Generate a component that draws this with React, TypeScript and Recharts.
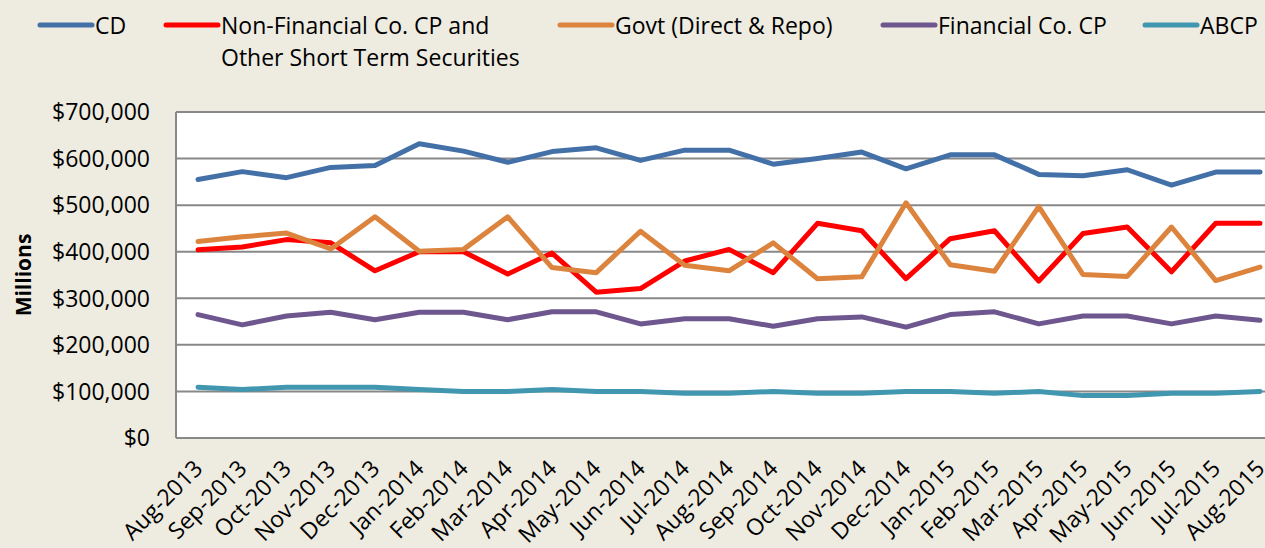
import React from 'react';
import { LineChart, Line, XAxis, YAxis, CartesianGrid } from 'recharts';

const months = ['Aug-2013','Sep-2013','Oct-2013','Nov-2013','Dec-2013','Jan-2014','Feb-2014','Mar-2014','Apr-2014','May-2014','Jun-2014','Jul-2014','Aug-2014','Sep-2014','Oct-2014','Nov-2014','Dec-2014','Jan-2015','Feb-2015','Mar-2015','Apr-2015','May-2015','Jun-2015','Jul-2015','Aug-2015'];
const cd = [555000,572000,559000,581000,585000,632000,616000,592000,615000,623000,596000,618000,618000,588000,600000,614000,578000,608000,608000,566000,563000,576000,543000,571000,571000];
const nonFin = [404000,410000,426000,419000,359000,400000,400000,352000,397000,313000,321000,380000,405000,355000,461000,445000,342000,428000,445000,337000,439000,453000,357000,461000,461000];
const govt = [422000,432000,440000,406000,475000,401000,405000,475000,366000,355000,444000,371000,359000,419000,342000,346000,505000,372000,358000,497000,351000,347000,453000,338000,367000];
const financial = [265000,243000,262000,270000,254000,270000,270000,254000,271000,271000,245000,256000,256000,240000,256000,260000,238000,265000,271000,245000,262000,262000,245000,262000,253000];
const abcp = [109000,104000,109000,109000,109000,104000,100000,100000,104000,100000,100000,96000,96000,100000,96000,96000,100000,100000,96000,100000,91000,91000,96000,96000,100000];
const yTicks = [0,100000,200000,300000,400000,500000,600000,700000];

const seriesNames = ['CD', 'Non-Financial Co. CP and\nOther Short Term Securities', 'Govt (Direct & Repo)', 'Financial Co. CP', 'ABCP'];
const seriesKeys = ['cd', 'nonFin', 'govt', 'financial', 'abcp'];
const seriesColors = ['#4470A8', '#FF0000', '#DC843D', '#6E578E', '#4097AF'];
const legendLefts = [37, 163, 557, 880, 1142];

const data = months.map((m, i) => ({
  month: m,
  cd: cd[i],
  nonFin: nonFin[i],
  govt: govt[i],
  financial: financial[i],
  abcp: abcp[i],
}));

const FONT = "'Open Sans', 'Noto Sans', sans-serif";

const fmt = (v: number) => '$' + v.toLocaleString('en-US');

const YTick = (props: any) => {
  const { x, y, payload } = props;
  return (
    <text x={x - 26} y={y} dy="0.36em" textAnchor="end" fontSize={23} fill="#000" fontFamily={FONT}>
      {fmt(payload.value)}
    </text>
  );
};

const XTick = (props: any) => {
  const { x, y, payload } = props;
  const ax = x + 6;
  const ay = y + 32;
  return (
    <text x={ax} y={ay} textAnchor="end" fontSize={23} fill="#000" fontFamily={FONT} transform={`rotate(-45, ${ax}, ${ay})`}>
      {payload.value}
    </text>
  );
};

export default function App() {
  return (
    <div style={{ position: 'fixed', left: 0, top: 0, width: 1265, height: 548, overflow: 'hidden', background: '#EEEBE0', fontFamily: FONT }}>
      {seriesNames.map((name, i) => (
        <div key={i} style={{ position: 'absolute', left: legendLefts[i], top: 10, display: 'flex', alignItems: 'flex-start' }}>
          <svg width={58} height={30} style={{ display: 'block' }}>
            <line x1={3} y1={15} x2={55} y2={15} stroke={seriesColors[i]} strokeWidth={5} strokeLinecap="round" />
          </svg>
          <div style={{ fontSize: 23, lineHeight: '32px', color: '#000', whiteSpace: 'pre', marginTop: -1 }}>{name}</div>
        </div>
      ))}
      <div style={{ position: 'absolute', left: 0, top: 0 }}>
        <LineChart width={1300} height={548} data={data} margin={{ top: 112, right: 18, bottom: 0, left: 0 }}>
          <CartesianGrid horizontal vertical={false} stroke="#888888" strokeWidth={2} fill="#FFFFFF" />
          <XAxis
            dataKey="month"
            interval={0}
            height={110}
            padding={{ left: 22, right: 22 }}
            tickLine={false}
            tickSize={0}
            tickMargin={0}
            axisLine={{ stroke: '#888888', strokeWidth: 2 }}
            tick={<XTick />}
          />
          <YAxis
            width={176}
            domain={[0, 700000]}
            ticks={yTicks}
            interval={0}
            tickLine={false}
            tickSize={0}
            tickMargin={0}
            axisLine={{ stroke: '#888888', strokeWidth: 2 }}
            tick={<YTick />}
            label={{ value: 'Millions', angle: -90, position: 'insideLeft', offset: 0, dx: 24, style: { fontSize: 21, fontWeight: 700, fill: '#000', fontFamily: FONT, textAnchor: 'middle' } }}
          />
          {seriesKeys.map((k, i) => (
            <Line key={k} type="linear" dataKey={k} stroke={seriesColors[i]} strokeWidth={5} dot={false} activeDot={false} strokeLinecap="round" strokeLinejoin="round" isAnimationActive={false} />
          ))}
        </LineChart>
      </div>
    </div>
  );
}
